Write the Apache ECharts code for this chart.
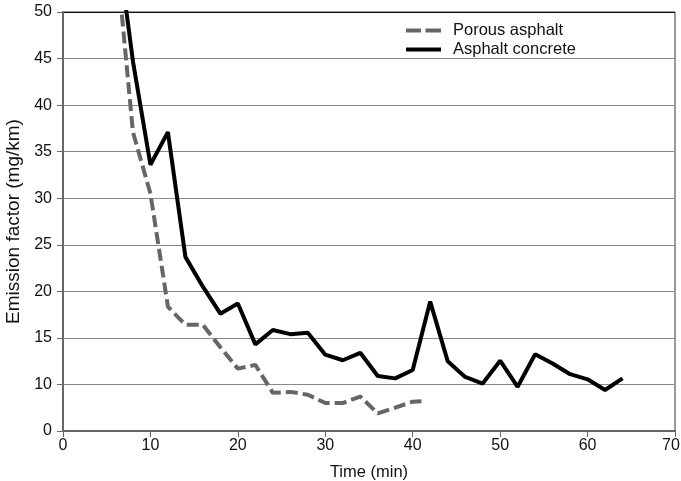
<!DOCTYPE html>
<html>
<head>
<meta charset="utf-8">
<script src="https://cdn.jsdelivr.net/npm/echarts@6/dist/echarts.min.js"></script>
<style>
html,body{margin:0;padding:0;background:#fff;}
#chart{width:681px;height:481px;}
</style>
</head>
<body>
<div id="chart"></div>
<script>
// Data (time in minutes, emission factor on the chart's own axis scale)
var porousTime = [6, 8, 10, 12, 14, 16, 18, 20, 22, 24, 26, 28, 30, 32, 34, 36, 38, 40, 41];
var porousValues = [57, 37.1, 30.5, 18.35, 16.4, 16.4, 14.0, 11.7, 12.1, 9.1, 9.2, 8.9, 8.0, 8.0, 8.7, 6.9, 7.5, 8.15, 8.2];
var concreteTime = [6, 8, 10, 12, 14, 16, 18, 20, 22, 24, 26, 28, 30, 32, 34, 36, 38, 40, 42, 44, 46, 48, 50, 52, 54, 56, 58, 60, 62, 64];
var concreteValues = [59, 44.7, 33.6, 37.1, 23.7, 20.5, 17.6, 18.7, 14.3, 15.85, 15.4, 15.55, 13.2, 12.6, 13.4, 10.9, 10.65, 11.55, 18.9, 12.5, 10.8, 10.1, 12.55, 9.75, 13.25, 12.25, 11.1, 10.55, 9.4, 10.65];
var yTickLabels = ['0', '10', '15', '20', '25', '30', '35', '40', '45', '50'];
var xTickLabels = ['0', '10', '20', '30', '40', '50', '60', '70'];
var seriesNames = ['Porous asphalt', 'Asphalt concrete'];

function pairs(xs, ys) {
  return xs.map(function (x, i) { return [x, ys[i]]; });
}

var chart = echarts.init(document.getElementById('chart'), null, {renderer: 'canvas'});
var font = 'Liberation Sans, Arial, sans-serif';
var gridColors = ['#888', '#888', '#888', '#888', '#888', '#888', '#888', '#888', '#888', '#111'];
chart.setOption({
  animation: false,
  backgroundColor: '#ffffff',
  textStyle: {fontFamily: font},
  grid: {left: 63, right: 6, top: 12, bottom: 50, show: true, borderColor: '#333', borderWidth: 1,
    containLabel: false, outerBoundsMode: 'none'},
  legend: {
    orient: 'vertical',
    left: 406,
    top: 22,
    padding: 0,
    itemWidth: 35,
    itemHeight: 4,
    itemGap: 2,
    textStyle: {fontSize: 16.5, color: '#111', fontFamily: font, padding: [0, 0, 0, 7]},
    data: [
      {name: seriesNames[0], icon: 'path://M0,0h15v4h-15z M19.5,0h15.5v4h-15.5z'},
      {name: seriesNames[1], icon: 'path://M0,0h35v4h-35z'}
    ]
  },
  xAxis: {
    type: 'value',
    min: 0, max: 70, interval: 10,
    name: 'Time (min)',
    nameLocation: 'middle',
    nameGap: 33,
    nameTextStyle: {fontSize: 16.5, color: '#111', fontFamily: font},
    axisLine: {show: true, lineStyle: {color: '#666', width: 2}},
    axisTick: {show: true, length: 6, lineStyle: {color: '#666', width: 1}},
    axisLabel: {fontSize: 16, color: '#111', margin: 7, fontFamily: font,
      formatter: function (v) {
        var t = xTickLabels[Math.round(v / 10)];
        return v === 70 ? '{r|' + t + '}' : t;
      },
      rich: {r: {fontSize: 16, color: '#111', fontFamily: font, padding: [0, 8, 0, 0]}}
    },
    splitLine: {show: false}
  },
  yAxis: {
    type: 'value',
    min: 5, max: 50, interval: 5,
    name: 'Emission factor (mg/km)',
    nameLocation: 'middle',
    nameGap: 38,
    nameTextStyle: {fontSize: 19, color: '#111', fontFamily: font},
    axisLine: {show: true, lineStyle: {color: '#666', width: 2}},
    axisTick: {show: true, length: 6, lineStyle: {color: '#666', width: 1}},
    axisLabel: {fontSize: 16, color: '#111', margin: 11, fontFamily: font,
      formatter: function (v) { return yTickLabels[Math.round((v - 5) / 5)]; }},
    splitLine: {show: true, lineStyle: {color: gridColors, width: 1}}
  },
  series: [
    {
      name: seriesNames[0],
      type: 'line',
      data: pairs(porousTime, porousValues),
      showSymbol: false,
      symbol: 'none',
      clip: true,
      lineStyle: {color: '#666', width: 4, type: [12, 5]},
      itemStyle: {color: '#666'},
      z: 3
    },
    {
      name: seriesNames[1],
      type: 'line',
      data: pairs(concreteTime, concreteValues),
      showSymbol: false,
      symbol: 'none',
      clip: true,
      lineStyle: {color: '#000', width: 4},
      itemStyle: {color: '#000'},
      z: 4
    }
  ]
});
</script>
</body>
</html>
